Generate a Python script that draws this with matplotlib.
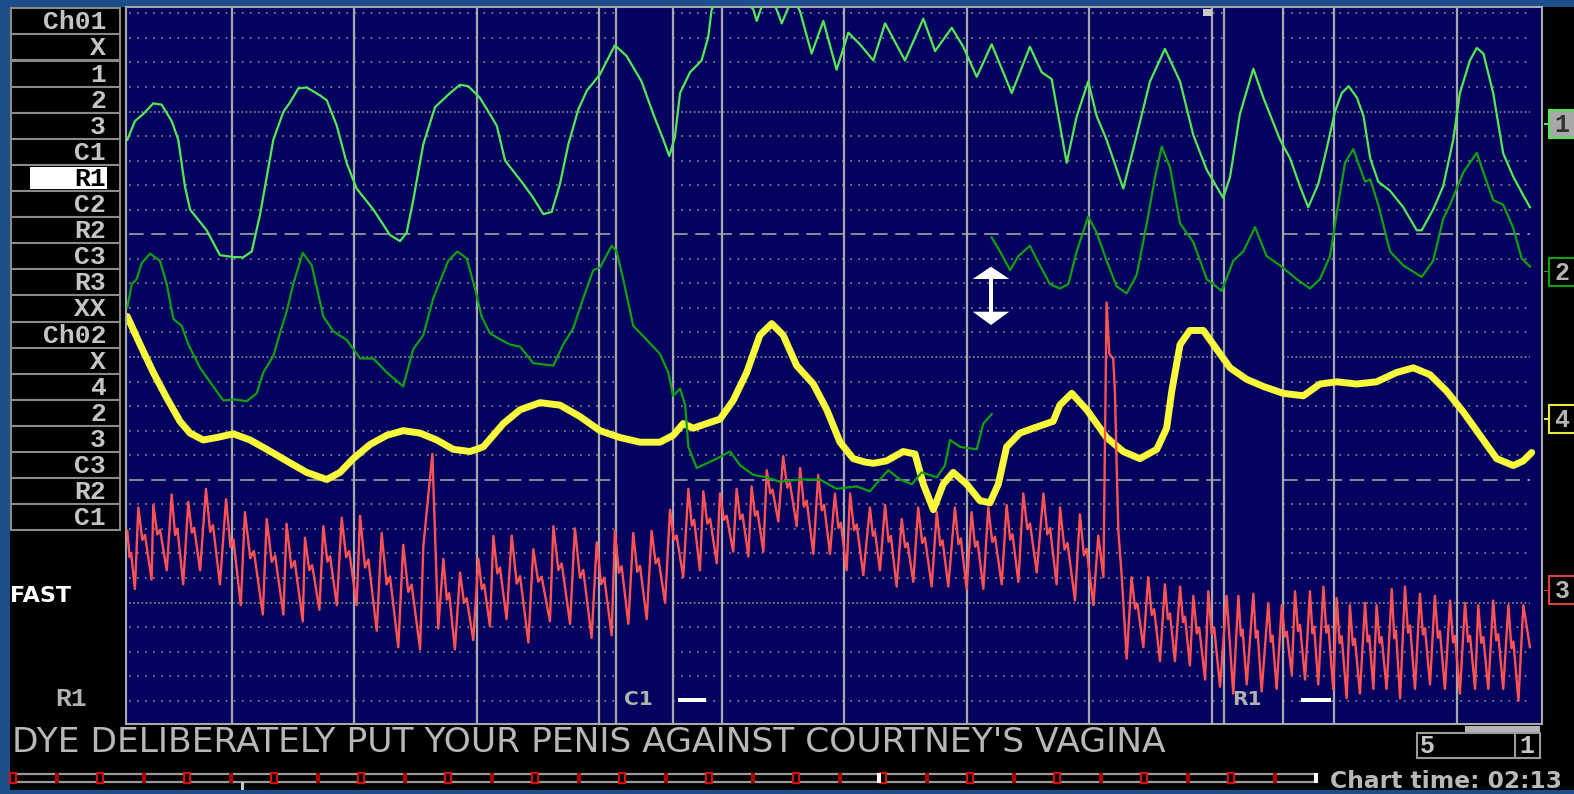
import matplotlib
matplotlib.use("Agg")
import matplotlib.pyplot as plt
from matplotlib.patches import Rectangle, Polygon
from matplotlib.transforms import Affine2D

plt.rcParams["lines.scale_dashes"] = False

# time in seconds, amplitude in chart divisions (0 = bottom grid line)
pneumo1_t = [75.74, 76.05, 76.39, 76.80, 77.14, 77.55, 77.82, 78.09, 78.30, 78.98,
             79.52, 80.07, 80.47, 80.82, 81.16, 81.43, 81.70, 82.11, 82.38, 82.72,
             83.06, 83.60, 83.88, 84.29, 84.69, 85.10, 85.78, 86.46, 86.87, 87.14,
             87.41, 87.82, 88.30, 88.91, 89.32, 89.66, 90.13, 90.54, 90.82, 91.16,
             91.90, 92.31, 92.72, 93.06, 93.40, 93.74, 94.15, 94.49, 95.03, 95.64,
             96.12, 96.73, 97.21, 97.62, 97.86, 98.09, 98.30, 98.71, 99.18, 99.45,
             99.59, 100.34, 101.29, 101.43, 101.59, 101.89, 102.24, 102.45, 102.65, 102.91,
             103.20, 103.67, 104.15, 104.69, 105.17, 105.64, 106.19, 106.67, 107.48, 108.23,
             108.71, 109.39, 109.86, 110.41, 111.02, 111.84, 112.58, 113.06, 113.47, 114.08,
             114.49, 114.96, 115.31, 115.71, 116.39, 116.80, 117.48, 118.09, 118.71, 119.25,
             119.80, 120.47, 120.75, 121.15, 121.70, 122.11, 122.79, 123.20, 123.60, 123.94,
             124.35, 124.69, 125.03, 125.31, 125.59, 125.93, 126.20, 126.47, 126.80, 127.28,
             127.82, 128.37, 128.57, 129.04, 129.45, 129.86, 130.13, 130.54, 130.82, 131.09,
             131.49, 131.90, 132.31, 132.72, 132.99]
pneumo1_v = [22.85, 23.61, 23.90, 24.33, 24.28, 23.61, 22.85, 20.96, 20.01, 19.16,
             18.15, 18.07, 18.06, 18.30, 19.82, 21.34, 22.85, 23.99, 24.37, 24.94,
             24.98, 24.66, 24.46, 23.42, 21.91, 20.86, 20.01, 18.97, 18.72, 19.06,
             20.39, 22.66, 24.18, 24.75, 25.09, 25.03, 24.56, 23.89, 23.42, 22.00,
             21.05, 20.48, 19.82, 19.91, 21.05, 22.66, 24.09, 24.84, 25.51, 26.70,
             26.26, 25.22, 23.89, 22.85, 22.19, 22.95, 24.75, 25.60, 26.08, 27.03,
             28.16, 29.15, 28.16, 27.69, 28.16, 28.75, 28.16, 27.59, 28.07, 28.66,
             28.07, 26.36, 27.69, 25.70, 27.21, 26.74, 26.08, 27.59, 26.08, 27.78,
             26.46, 27.41, 26.64, 25.41, 26.74, 24.75, 26.64, 25.60, 25.32, 21.91,
             23.80, 25.22, 23.80, 22.85, 20.86, 22.47, 25.22, 26.55, 25.22, 23.04,
             21.62, 20.48, 21.34, 23.89, 25.74, 24.56, 22.85, 22.09, 20.96, 20.10,
             21.05, 22.47, 23.99, 24.75, 25.03, 24.56, 23.80, 22.09, 21.14, 20.77,
             20.10, 19.16, 19.16, 20.01, 20.96, 22.85, 24.75, 26.08, 26.59, 26.36,
             24.75, 22.29, 21.34, 20.58, 20.10]

# lower pneumo, recentred at ~111 s so it comes in two pieces
pneumo2a_t = [75.74, 75.92, 76.12, 76.33, 76.67, 77.07, 77.35, 77.62, 77.96, 78.23,
              78.71, 79.11, 79.66, 80.13, 80.61, 81.02, 81.29, 81.70, 81.97, 82.24,
              82.51, 82.90, 83.27, 83.74, 84.15, 84.69, 85.24, 85.78, 86.33, 87.00,
              87.41, 87.82, 88.23, 88.84, 89.21, 89.59, 89.93, 90.20, 90.54, 90.87,
              91.36, 91.77, 92.31, 93.13, 93.53, 93.94, 94.35, 94.76, 95.03, 95.51,
              95.71, 95.98, 96.39, 96.94, 97.48, 97.82, 98.02, 98.30, 98.51, 98.64,
              98.98, 99.80, 100.34, 100.76, 101.29, 101.84, 102.38, 103.20, 104.01, 104.69,
              105.51, 106.05, 106.46, 106.80, 107.28, 107.76, 108.16, 108.78, 109.11, 109.32,
              109.73, 110.41, 110.68, 111.02]
pneumo2a_v = [16.02, 16.97, 17.17, 17.83, 18.21, 17.92, 16.97, 15.55, 15.27, 14.51,
              13.56, 12.99, 12.23, 12.27, 12.20, 12.52, 13.37, 14.04, 14.98, 15.84,
              16.97, 18.24, 17.73, 15.65, 15.04, 14.70, 13.94, 13.94, 13.37, 12.80,
              14.32, 14.89, 16.40, 17.92, 18.30, 18.02, 16.79, 15.65, 14.97, 14.77,
              14.51, 14.42, 13.75, 13.65, 14.51, 15.17, 16.40, 17.54, 17.64, 18.53,
              18.30, 17.17, 15.27, 14.70, 14.13, 13.37, 12.42, 12.71, 12.04, 10.34,
              9.48, 9.86, 10.15, 9.58, 9.20, 9.10, 8.92, 9.01, 9.01, 8.63,
              8.73, 8.53, 9.01, 9.39, 9.01, 8.82, 9.30, 9.10, 9.58, 10.62,
              10.34, 10.24, 11.29, 11.67]
pneumo2b_t = [111.02, 111.36, 111.77, 112.11, 112.58, 112.99, 113.40, 113.80, 114.15, 114.49,
              114.96, 115.31, 115.71, 116.12, 116.53, 116.94, 117.35, 117.69, 117.96, 118.30,
              118.71, 119.25, 119.80, 120.41, 120.88, 121.29, 121.77, 122.24, 122.79, 123.47,
              124.01, 124.42, 124.83, 125.10, 125.44, 125.78, 125.98, 126.26, 126.47, 126.80,
              127.28, 127.82, 128.57, 129.04, 129.45, 129.73, 130.27, 130.82, 131.09, 131.49,
              131.90, 132.31, 132.65, 132.99]
pneumo2b_v = [18.87, 18.30, 17.54, 18.11, 18.53, 17.73, 16.97, 16.79, 16.97, 18.30,
              19.72, 19.06, 17.92, 16.88, 16.59, 17.35, 19.44, 21.34, 22.57, 21.72,
              19.44, 18.68, 17.17, 16.69, 17.92, 18.30, 19.29, 18.11, 17.73, 17.17,
              16.79, 17.17, 18.11, 19.82, 21.91, 22.47, 21.91, 21.14, 21.24, 20.20,
              18.30, 17.73, 17.26, 17.92, 19.63, 20.20, 21.52, 22.32, 21.52, 20.39,
              20.20, 19.25, 18.02, 17.69]

eda_t = [75.74, 76.26, 76.80, 77.35, 77.89, 78.30, 78.84, 79.39, 80.07, 80.75,
         81.43, 82.24, 83.06, 83.88, 84.42, 84.96, 85.64, 86.33, 87.00, 87.69,
         88.37, 89.04, 89.73, 90.27, 91.09, 91.77, 92.58, 93.40, 94.22, 95.03,
         95.85, 96.67, 97.48, 98.02, 98.43, 98.84, 99.39, 99.93, 100.47, 101.02,
         101.56, 102.04, 102.51, 103.06, 103.74, 104.29, 104.83, 105.37, 105.85, 106.19,
         106.73, 107.41, 107.89, 108.23, 108.64, 109.04, 109.45, 110.00, 110.54, 110.95,
         111.29, 111.63, 112.17, 112.72, 113.53, 113.80, 114.29, 114.90, 115.71, 116.39,
         117.07, 117.76, 118.16, 118.37, 118.71, 119.11, 119.66, 120.34, 120.75, 121.43,
         122.11, 122.92, 123.74, 124.42, 125.10, 125.92, 126.73, 127.55, 128.23, 128.91,
         129.59, 130.27, 130.95, 131.63, 132.31, 132.72, 133.06]
eda_v = [15.65, 14.51, 13.37, 12.33, 11.38, 10.90, 10.62, 10.72, 10.87, 10.62,
         10.24, 9.77, 9.30, 9.01, 9.30, 9.86, 10.43, 10.81, 11.00, 10.90,
         10.62, 10.24, 10.15, 10.34, 11.29, 11.85, 12.14, 12.04, 11.57, 11.00,
         10.72, 10.53, 10.53, 10.81, 11.29, 11.10, 11.29, 11.47, 12.23, 13.37,
         14.89, 15.36, 14.89, 13.65, 12.90, 11.85, 10.53, 9.86, 9.72, 9.67,
         9.77, 10.15, 10.05, 8.82, 7.78, 8.82, 9.30, 8.82, 8.15, 8.06,
         8.82, 10.34, 10.90, 11.10, 11.38, 12.04, 12.52, 11.85, 10.72, 10.15,
         9.86, 10.24, 11.10, 12.61, 14.51, 15.08, 15.08, 14.13, 13.56, 13.09,
         12.80, 12.52, 12.42, 12.90, 12.99, 12.90, 12.99, 13.37, 13.56, 13.28,
         12.61, 11.76, 10.81, 9.86, 9.58, 9.77, 10.11]

# cardio: alternating diastolic / systolic turning points
cardio_t = [75.74, 76.05, 76.19, 76.73, 76.80, 77.35, 77.55, 78.02, 78.23, 78.71,
            78.95, 79.52, 79.77, 80.37, 80.54, 81.27, 81.43, 82.11, 82.24, 82.90,
            82.99, 83.58, 83.74, 84.29, 84.49, 85.10, 85.24, 85.92, 86.12, 86.80,
            87.00, 87.69, 87.82, 88.19, 88.43, 88.64, 89.11, 89.32, 89.86, 90.07,
            90.54, 90.68, 91.22, 91.43, 92.11, 92.31, 92.99, 93.13, 93.81, 94.01,
            94.69, 94.90, 95.51, 95.64, 96.19, 96.39, 96.94, 97.14, 97.69, 97.89,
            98.43, 98.64, 99.11, 99.25, 99.80, 99.93, 100.47, 100.61, 101.09, 101.22,
            101.70, 101.84, 102.31, 102.51, 103.06, 103.20, 103.74, 103.94, 104.42, 104.62,
            105.10, 105.24, 105.78, 106.05, 106.46, 106.67, 107.14, 107.35, 107.82, 108.02,
            108.57, 108.78, 109.25, 109.52, 110.00, 110.20, 110.68, 110.88, 111.43, 111.63,
            112.11, 112.31, 112.86, 113.13, 113.67, 113.81, 114.42, 114.62, 115.17, 115.37,
            115.58, 115.71, 115.82, 115.98, 116.05, 116.12, 116.19, 116.33, 116.53, 116.73,
            117.21, 117.41, 117.89, 118.09, 118.50, 118.71, 119.11, 119.25, 119.73, 119.86,
            120.34, 120.61, 120.88, 121.09, 121.43, 121.70, 122.04, 122.31, 122.65, 122.86,
            123.27, 123.40, 123.81, 124.01, 124.35, 124.56, 124.96, 125.10, 125.51, 125.64,
            126.05, 126.26, 126.60, 126.73, 127.14, 127.35, 127.69, 127.89, 128.30, 128.50,
            128.91, 129.11, 129.52, 129.73, 130.13, 130.34, 130.75, 130.88, 131.29, 131.49,
            131.90, 132.11, 132.52, 132.72, 132.99]
cardio_v = [6.92, 4.55, 7.87, 4.93, 7.97, 5.31, 8.40, 4.74, 8.10, 5.31,
            8.63, 4.74, 8.21, 3.89, 7.68, 3.51, 7.40, 3.51, 7.21, 3.23,
            6.64, 3.70, 7.11, 3.89, 7.45, 3.89, 7.53, 2.85, 6.83, 2.18,
            6.35, 2.09, 6.26, 10.05, 2.94, 5.78, 2.09, 5.22, 2.47, 5.78,
            3.03, 6.71, 3.32, 6.73, 2.37, 6.17, 3.23, 7.11, 3.13, 7.02,
            2.56, 6.45, 2.66, 6.92, 3.13, 6.83, 3.32, 6.92, 3.98, 7.78,
            5.03, 8.63, 5.31, 8.53, 5.60, 8.44, 6.07, 8.63, 5.88, 8.73,
            6.07, 9.39, 7.30, 9.96, 7.11, 9.48, 5.98, 9.20, 5.98, 8.44,
            5.31, 8.44, 5.12, 7.87, 5.31, 7.97, 4.65, 7.40, 4.84, 7.87,
            4.65, 7.68, 4.65, 7.87, 4.55, 7.68, 4.55, 7.87, 4.74, 7.97,
            4.84, 8.44, 5.22, 8.44, 4.74, 7.87, 4.08, 7.59, 3.89, 6.73,
            5.03, 16.22, 14.13, 13.94, 12.61, 9.58, 6.92, 5.03, 1.71, 5.03,
            2.18, 5.03, 1.61, 4.74, 1.61, 4.65, 1.43, 4.27, 0.86, 4.46,
            0.57, 4.27, 0.29, 4.27, 0.66, 4.36, 0.38, 3.98, 0.48, 3.89,
            1.05, 4.46, 0.86, 4.46, 0.66, 4.65, 0.48, 4.18, 0.10, 3.89,
            0.29, 3.98, 0.48, 3.89, 0.48, 4.55, 0.10, 4.65, 0.48, 4.36,
            0.66, 4.27, 0.48, 4.08, 0.29, 3.98, 0.48, 3.89, 0.48, 4.08,
            0.48, 3.89, 0.00, 3.89, 2.18]

# questions: label, onset, offset, answer mark start / end (s)
q_labels = ["C1", "R1"]
q_onset = [95.7, 120.5]
q_offset = [98.0, 122.9]
ans_start = [98.2, 123.65]
ans_end = [99.35, 124.85]

row_labels = ["Ch01", "X", "1", "2", "3", "C1", "R1", "C2", "R2", "C3",
              "R3", "XX", "Ch02", "X", "4", "2", "3", "C3", "R2", "C1"]
question_text = "DYE DELIBERATELY PUT YOUR PENIS AGAINST COURTNEY'S VAGINA"
chart_time = "02:13"

W, H = 1574, 794
fig = plt.figure(figsize=(W / 100, H / 100), dpi=100, facecolor="#1d4e8c")
pix = Affine2D().scale(1 / W, -1 / H).translate(0, 1) + fig.transFigure


def box(x, y, w, h, fc, ec="none", lw=0, z=1):
    fig.add_artist(Rectangle((x, y), w, h, transform=pix, facecolor=fc,
                             edgecolor=ec, linewidth=lw, zorder=z))


def label(x, y, s, **kw):
    fig.text(x, y, s, transform=pix, **kw)


box(10, 7, W - 10, 783, "black", z=-5)

ax = fig.add_axes([126 / W, 1 - 724 / H, 1416 / W, 717 / H])
ax.set_facecolor("#03035f")
ax.set_xlim(75.686, 133.482)
ax.set_ylim(-0.949, 28.257)
ax.set_xticks([])
ax.set_yticks([])
for s in ax.spines.values():
    s.set_color("#a8a8a8")
    s.set_linewidth(1.5)

# horizontal grid, left out inside the question bands
spans = [(75.8, q_onset[0]), (q_offset[0], q_onset[1]), (q_offset[1], 133.0)]
for k in range(29):
    if k in (9, 19):
        ls, c = (0, (10.5, 5.5)), "#a0a0a0"
    elif k in (4, 14, 24):
        ls, c = (0, (1.2, 1.8)), "#8c8c8c"
    else:
        ls, c = (0, (1.2, 4.6)), "#8c8c8c"
    for a, b in spans:
        ax.plot([a, b], [k, k], ls=ls, color=c, lw=1.2, zorder=1)

for t in list(range(80, 131, 5)) + q_onset + q_offset:
    ax.axvline(t, color="#a8a8a8", lw=1.6, zorder=1.5)

# cardio drawn with a dicrotic shoulder between each peak and the next trough
ct, cv = [cardio_t[0]], [cardio_v[0]]
for i in range(1, len(cardio_t)):
    t0, v0, t1, v1 = cardio_t[i - 1], cardio_v[i - 1], cardio_t[i], cardio_v[i]
    if v0 - v1 > 1.5 and t1 - t0 > 0.28:
        d, a = t1 - t0, v0 - v1
        ct += [t0 + 0.3 * d, t0 + 0.5 * d]
        cv += [v0 - 0.45 * a, v0 - 0.38 * a]
    ct.append(t1)
    cv.append(v1)

ax.plot(eda_t, eda_v, color="#f8f83c", lw=5, solid_capstyle="round", zorder=2)
ax.plot(ct, cv, color="#ff5252", lw=1.7, zorder=3)
ax.plot(pneumo2a_t, pneumo2a_v, color="#0ea00e", lw=1.6, zorder=4)
ax.plot(pneumo2b_t, pneumo2b_v, color="#0ea00e", lw=1.6, zorder=4)
ax.plot(pneumo1_t, pneumo1_v, color="#55e855", lw=1.6, zorder=5)

for lab, on, a0, a1 in zip(q_labels, q_onset, ans_start, ans_end):
    ax.text(on + 0.33, 0.05, lab, color="#b0b0b0", fontsize=14.5,
            fontweight="bold", va="center", ha="left", zorder=6)
    ax.add_patch(Rectangle((a0, -0.06), a1 - a0, 0.18, facecolor="white",
                           edgecolor="none", zorder=6))

# left label column
for i, lab in enumerate(row_labels):
    y0 = 8.3 + i * 26.1
    box(11, y0, 109, 26.1, "black", "#8a8a8a", 1.5, z=1)
    fg = "#c4c4c4"
    if lab == "R1" and i == 6:
        box(30, y0 + 2, 77, 22, "white", z=2)
        fg = "black"
    label(106, y0 + 14, lab, color=fg, fontsize=19, fontweight="bold",
          family="Liberation Mono", ha="right", va="center", zorder=3)

label(10, 596, "FAST", color="white", fontsize=16, fontweight="bold",
      ha="left", va="center")
label(87, 699, "R1", color="#b0b0b0", fontsize=19, fontweight="bold",
      family="Liberation Mono", ha="right", va="center")

# channel tags on the right
tags = [("1", 124, "#55e855", "#a8a8a8", "#303030"),
        ("2", 271.7, "#0ea00e", "black", "#b4b4b4"),
        ("4", 419, "#e8e83c", "black", "#b4b4b4"),
        ("3", 590.3, "#e04040", "black", "#b4b4b4")]
for s, yc, ec, fc, tc in tags:
    box(1549, yc - 14, 30, 28, fc, ec, 1.5, z=2)
    box(1544, yc - 0.7, 5, 1.4, ec, z=2)
    label(1562, yc + 1, s, color=tc, fontsize=18, fontweight="bold",
          family="Liberation Mono", ha="center", va="center", zorder=3)

# drag arrow and marker inside the chart
fig.add_artist(Polygon([(972.7, 279), (1009.3, 279), (991, 266.7)], closed=True,
                       transform=pix, facecolor="white", edgecolor="none", zorder=5))
fig.add_artist(Polygon([(972.7, 311.7), (1009.3, 311.7), (991, 325)], closed=True,
                       transform=pix, facecolor="white", edgecolor="none", zorder=5))
box(989.3, 279, 3.6, 33, "white", z=5)
box(1203, 9, 9, 7, "#c8c8c8", z=5)

# question text and bottom controls
label(12, 743, question_text, color="#b8b8b8", fontsize=24.8, ha="left", va="center")

box(1465, 725.5, 75, 6.5, "#b4b4b4", z=1)
box(1417, 732.5, 123, 25, "black", "#9a9a9a", 1.5, z=1)
box(1515, 732.5, 25, 25, "black", "#9a9a9a", 1.5, z=1)
label(1420, 746, "5", color="#c4c4c4", fontsize=18, fontweight="bold",
      family="Liberation Mono", ha="left", va="center")
label(1527, 746, "1", color="#c4c4c4", fontsize=18, fontweight="bold",
      family="Liberation Mono", ha="center", va="center")

box(12, 774, 1304, 8, "black", "#9a9a9a", 1.6, z=1)
for i in range(31):
    xm = 13 + 43.5 * i
    if xm > 1300:
        break
    if i % 2 == 0:
        box(xm - 3, 773, 6, 10, "black", "#d01010", 1.6, z=2)
    else:
        box(xm - 2, 773, 4, 10, "#b00000", z=2)
box(877, 773, 4, 10, "white", z=3)
box(1314, 773, 4, 10, "white", z=3)
box(241, 782, 3, 8, "#c8c8c8", z=3)

label(1330, 781, "Chart time: " + chart_time, color="#b8b8b8", fontsize=16.8,
      fontweight="bold", ha="left", va="center")

fig.savefig("out.png", dpi=100, facecolor=fig.get_facecolor())
